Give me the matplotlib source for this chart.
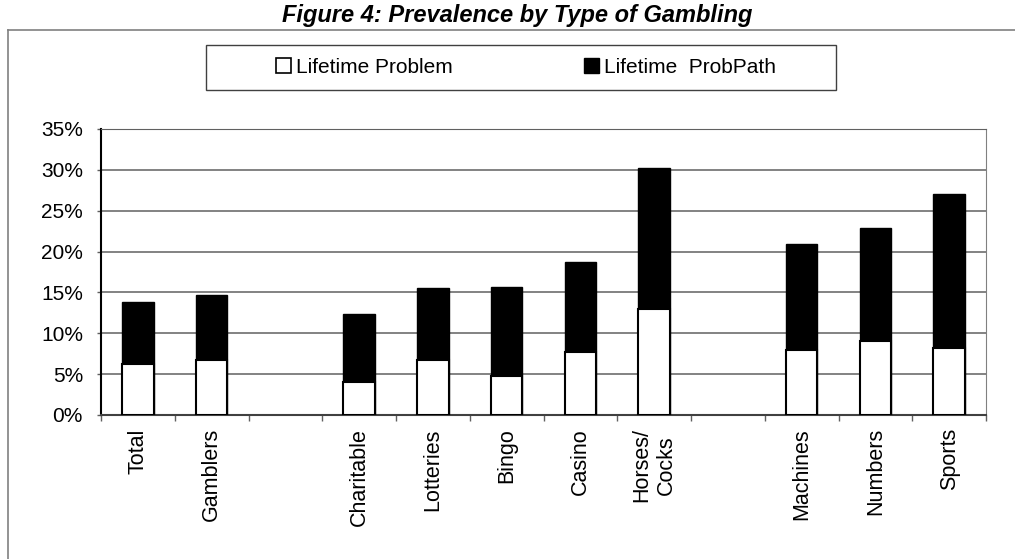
import numpy as np
import matplotlib.pyplot as plt
from matplotlib.lines import Line2D
from matplotlib.patches import Patch, Rectangle
from matplotlib.ticker import FuncFormatter, FixedLocator

plt.rcParams['font.family'] = ['Liberation Sans', 'DejaVu Sans']

# categories (empty strings are the gaps between groups)
categories = ['Total', 'Gamblers', '', 'Charitable', 'Lotteries', 'Bingo',
              'Casino', 'Horses/\nCocks', '', 'Machines', 'Numbers', 'Sports']
# values in percent (nan = gap)
lifetime_problem = [6.2, 6.7, np.nan, 4.0, 6.7, 4.8, 7.7, 13.0, np.nan, 7.9, 9.1, 8.2]
lifetime_probpath = [13.8, 14.7, np.nan, 12.3, 15.5, 15.7, 18.7, 30.2, np.nan, 20.9, 22.9, 27.0]
y_ticks = [0, 5, 10, 15, 20, 25, 30, 35]

W, H = 1015, 559
fig = plt.figure(figsize=(W / 100, H / 100), dpi=100)
ax = fig.add_axes([101 / W, 1 - 415 / H, 885 / W, 286 / H])

x = np.arange(len(categories))
w = 0.43
ax.bar(x, lifetime_probpath, width=w, color='black', edgecolor='black',
       linewidth=1.0, zorder=3)
ax.bar(x, lifetime_problem, width=w, color='white', edgecolor='black',
       linewidth=1.5, zorder=4)

ax.set_xlim(-0.5, len(categories) - 0.5)
ax.set_ylim(0, 35)
ax.set_yticks(y_ticks)
ax.yaxis.set_major_formatter(FuncFormatter(lambda v, p: '%d%%' % v))
ax.yaxis.grid(True, color='#606060', linewidth=1.1, zorder=1)
ax.set_axisbelow(True)

# category labels at centres, tick marks at slot boundaries
ax.set_xticks(x)
ax.set_xticklabels(categories, rotation=90, ha='center', va='top',
                   multialignment='center')
ax.xaxis.set_minor_locator(FixedLocator(np.arange(-0.5, len(categories), 1.0)))
ax.tick_params(axis='x', which='major', length=0, pad=9.5, labelsize=15.5)
ax.tick_params(axis='x', which='minor', length=4.5, width=1, color='#606060',
               direction='out')
ax.tick_params(axis='y', length=3, width=1, color='#606060', labelsize=15, pad=10)

ax.spines['left'].set_color('black')
ax.spines['left'].set_linewidth(1.5)
ax.spines['bottom'].set_color('#404040')
ax.spines['bottom'].set_linewidth(1.5)
ax.spines['right'].set_color('#808080')
ax.spines['top'].set_color('#606060')

# outer chart frame
fig.add_artist(Line2D([7.5 / W, 7.5 / W], [0, 1 - 30 / H],
                      transform=fig.transFigure, color='#808080', lw=1.2))
fig.add_artist(Line2D([7.5 / W, 1], [1 - 30 / H, 1 - 30 / H],
                      transform=fig.transFigure, color='#808080', lw=1.2))

fig.text(517 / W, 1 - 22 / H, 'Figure 4: Prevalence by Type of Gambling',
         ha='center', va='baseline', fontsize=17, fontweight='bold', style='italic')

# legend box
fig.add_artist(Rectangle((206 / W, 1 - 90 / H), 630 / W, 45 / H,
                         transform=fig.transFigure, facecolor='white',
                         edgecolor='#404040', linewidth=1.0))
handles = [Patch(facecolor='white', edgecolor='black', linewidth=1.2),
           Patch(facecolor='black', edgecolor='black')]
leg = fig.legend(handles, ['Lifetime Problem', 'Lifetime  ProbPath'],
                 loc='center', bbox_to_anchor=(526 / W, 1 - 67.5 / H),
                 ncol=2, frameon=False, fontsize=15,
                 handlelength=0.72, handleheight=0.72, handletextpad=0.25,
                 columnspacing=6.3, borderpad=0)
leg.set_zorder(5)

fig.savefig('out.png', dpi=100)
